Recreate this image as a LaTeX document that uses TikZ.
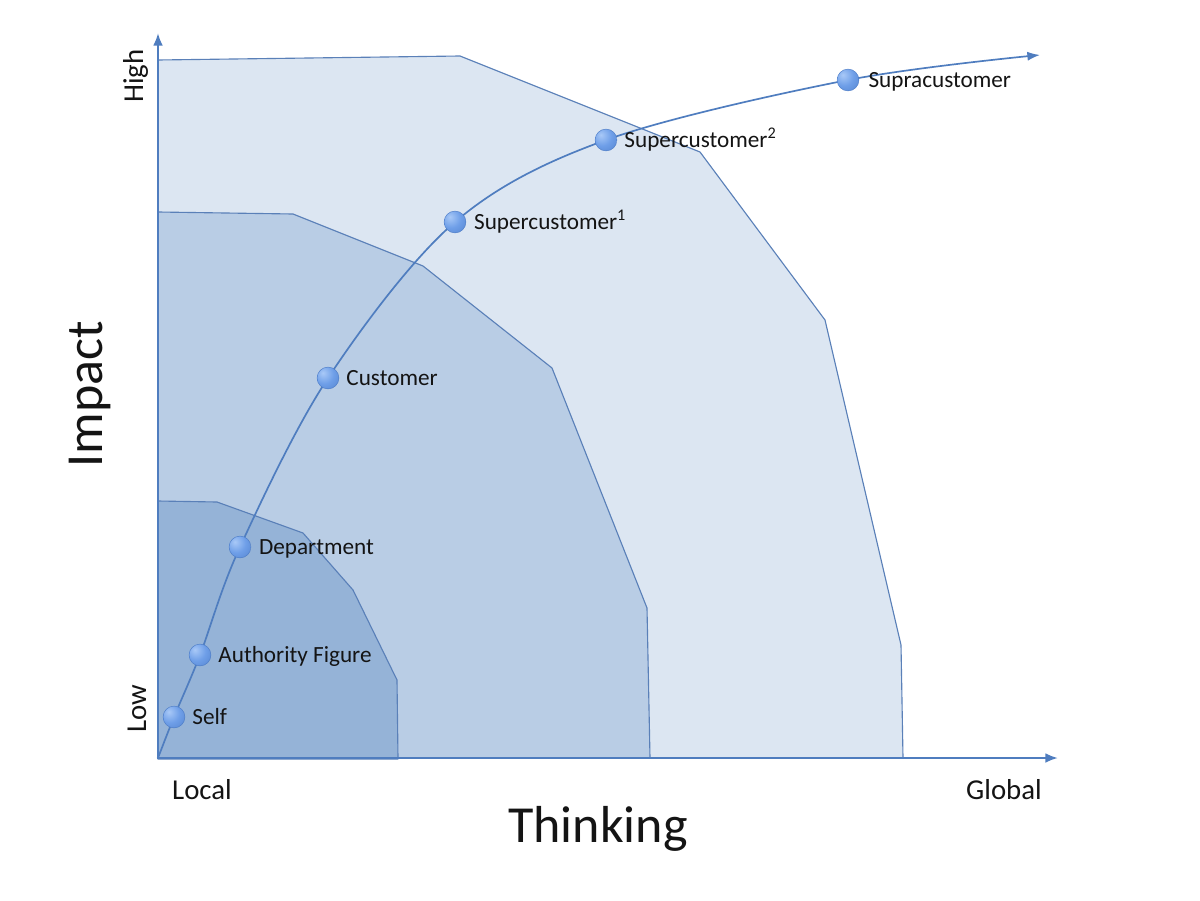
\documentclass[tikz,border=0pt]{standalone}
\usepackage{fontspec}
\setmainfont{Carlito}
\usetikzlibrary{arrows.meta,positioning}

\definecolor{stagelight}{HTML}{A9C9F7}
\definecolor{stageball}{HTML}{6F9FE8}
\definecolor{stagedeep}{HTML}{4A7AC6}
\pgfdeclareradialshading{stageshade}{\pgfpoint{-12bp}{12bp}}{%
  color(0bp)=(stagelight); color(22bp)=(stageball);
  color(55bp)=(stagedeep); color(100bp)=(stagedeep)}

\begin{document}
\begin{tikzpicture}[x=0.025cm, y=-0.025cm]

\definecolor{regline}{HTML}{5A80B8}
\definecolor{regouter}{HTML}{DCE6F2}
\definecolor{regmiddle}{HTML}{B9CDE5}
\definecolor{reginner}{HTML}{95B3D7}
\definecolor{axisblue}{HTML}{4F7DBF}
\definecolor{labelink}{HTML}{141414}

\tikzset{
  region/.style={draw=regline, line width=0.8pt, line join=round},
  axisline/.style={
    draw=axisblue, line width=1.6pt, -{Latex[length=9pt,width=7pt]}
  },
  pathline/.style={
    draw=axisblue, line width=1.2pt, -{Latex[length=9pt,width=6.5pt]}
  },
  stage/.style={
    circle, minimum size=15.5pt, inner sep=0pt, shading=stageshade,
    draw=stagedeep, line width=0.3pt
  },
  stagetext/.style={
    anchor=base west, inner sep=0pt, text=labelink,
    font=\fontsize{16.5}{20}\selectfont
  },
  axistext/.style={
    anchor=base, inner sep=0pt, text=labelink,
    font=\fontsize{20.5}{24}\selectfont
  },
  axistitle/.style={
    anchor=base, inner sep=0pt, text=labelink,
    font=\fontsize{37}{44}\selectfont
  }
}

\useasboundingbox (0,0) rectangle (1200,900);

% Nested areas, widest first.
\draw[region, fill=regouter] (158,758) -- (158,60) -- (460,56) -- (700,152)
  -- (825,320) -- (901,645) -- (903,758) -- cycle;
\draw[region, fill=regmiddle] (158,758) -- (158,212) -- (293,214)
  -- (423,266) -- (552,368) -- (647,608) -- (650,758) -- cycle;
\draw[region, fill=reginner] (158,759) -- (158,501) -- (217,502)
  -- (303,533) -- (353,590) -- (397,680) -- (398,759) -- cycle;

% Axes.
\coordinate (origin) at (158,758);
\coordinate (ytip)   at (158,33);
\coordinate (xtip)   at (1058,758);
\draw[axisline] ([yshift=-1pt]origin) -- (ytip);
\draw[axisline] ([xshift=-1pt]origin) -- (xtip);

% Stages along the path.
\coordinate (self)       at (174,717);
\coordinate (authority)  at (200,655);
\coordinate (department) at (240,547);
\coordinate (customer)   at (328,378);
\coordinate (superone)   at (455,222);
\coordinate (supertwo)   at (606,140);
\coordinate (supra)      at (848,80);
\coordinate (pathend)    at (1040,55);

\draw[pathline] plot[smooth, tension=0.55] coordinates {
  (origin) (self) (authority) (department) (customer)
  (superone) (supertwo) (supra) (pathend)};

\foreach \stagename in {self,authority,department,customer,superone,supertwo,supra}
  \node[stage] (\stagename dot) at (\stagename) {};

\node[stagetext] (selftext) at ([xshift=5pt,yshift=-5.3pt]selfdot.east) {Self};
\node[stagetext] (authoritytext) at ([xshift=5pt,yshift=-5.3pt]authoritydot.east)
  {Authority Figure};
\node[stagetext] (departmenttext) at ([xshift=5.5pt,yshift=-5.3pt]departmentdot.east)
  {Department};
\node[stagetext] (customertext) at ([xshift=5pt,yshift=-5.3pt]customerdot.east)
  {Customer};
\node[stagetext] (superonetext) at ([xshift=5.5pt,yshift=-5.3pt]superonedot.east)
  {Supercustomer\textsuperscript{1}};
\node[stagetext] (supertwotext) at ([xshift=5pt,yshift=-5.3pt]supertwodot.east)
  {Supercustomer\textsuperscript{2}};
\node[stagetext] (supratext) at ([xshift=6.5pt,yshift=-5.3pt]supradot.east)
  {Supracustomer};

% Axis labels.
\node[axistext, rotate=90] (high) at (143,76) {High};
\node[axistext, rotate=90] (low)  at (146,709) {Low};
\node[axistext] (local)  at (202,799) {Local};
\node[axistext] (global) at (1004,799) {Global};
\node[axistitle, rotate=90] (impact) at (102,394) {Impact};
\node[axistitle] (thinking) at (598,842) {Thinking};

\end{tikzpicture}
\end{document}
